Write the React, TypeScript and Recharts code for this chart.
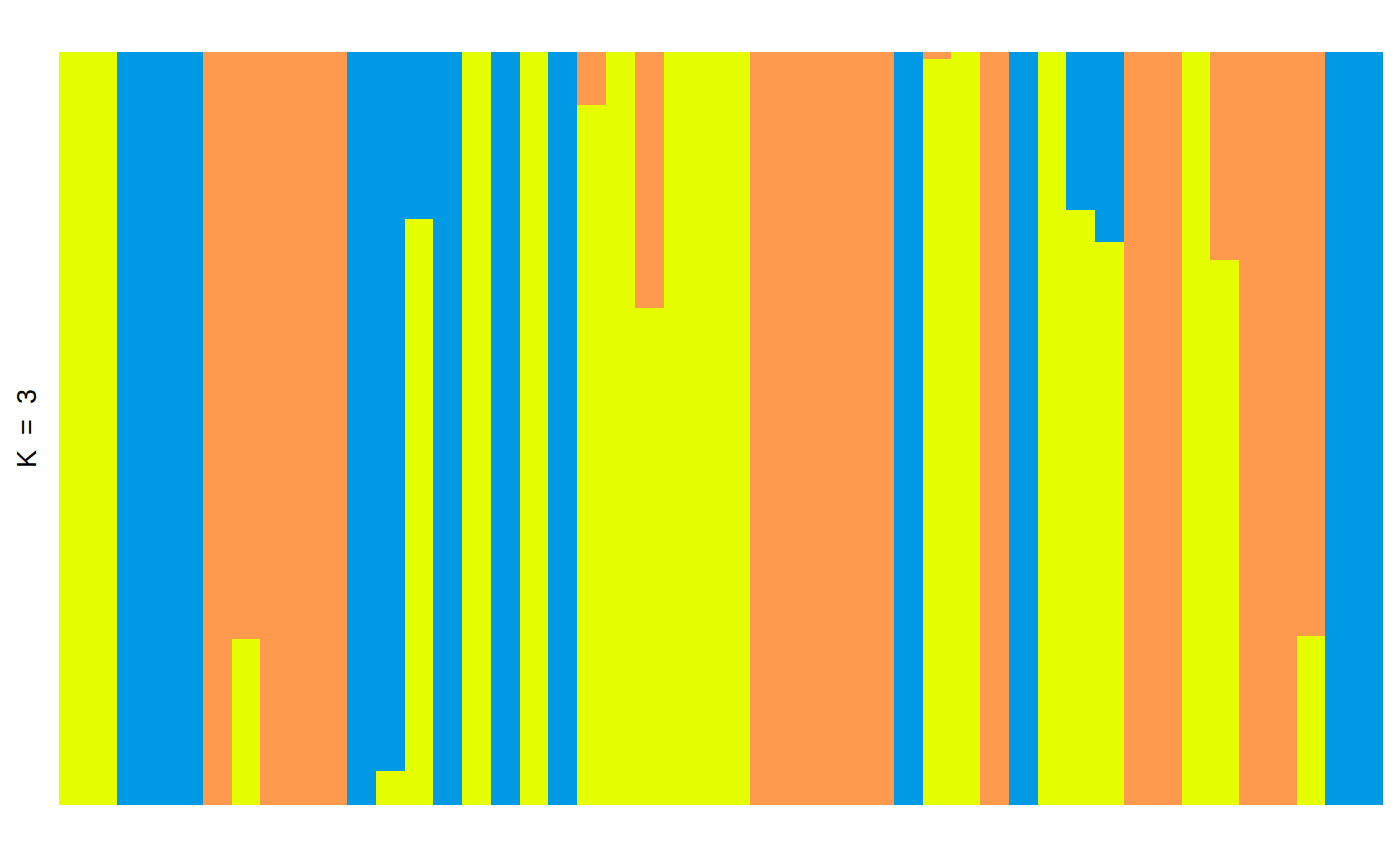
import React from 'react';
import { BarChart, Bar, XAxis, YAxis } from 'recharts';

// one entry per individual, ancestry proportions for K = 3
const individuals = Array.from({ length: 46 }, (_, i) => `ind${i + 1}`);

const yellowShare = [
  1, 1, 0, 0, 0, 0, 0.22, 0, 0, 0,
  0, 0.045, 0.778, 0, 1, 0, 1, 0, 0.93, 1,
  0.66, 1, 1, 1, 0, 0, 0, 0, 0, 0,
  0.991, 1, 0, 0, 1, 0.79, 0.748, 0, 0, 1,
  0.724, 0, 0, 0.224, 0, 0,
];
const orangeShare = [
  0, 0, 0, 0, 0, 1, 0.78, 1, 1, 1,
  0, 0, 0, 0, 0, 0, 0, 0, 0.07, 0,
  0.34, 0, 0, 0, 1, 1, 1, 1, 1, 0,
  0.009, 0, 1, 0, 0, 0, 0, 1, 1, 0,
  0.276, 1, 1, 0.776, 0, 0,
];
const blueShare = [
  0, 0, 1, 1, 1, 0, 0, 0, 0, 0,
  1, 0.955, 0.222, 1, 0, 1, 0, 1, 0, 0,
  0, 0, 0, 0, 0, 0, 0, 0, 0, 1,
  0, 0, 0, 1, 0, 0.21, 0.252, 0, 0, 0,
  0, 0, 0, 0, 1, 1,
];

const data = individuals.map((id, i) => ({
  id,
  yellow: yellowShare[i],
  orange: orangeShare[i],
  blue: blueShare[i],
}));

const KLabel = (props: any) => {
  const { viewBox } = props;
  const cx = 36;
  const cy = viewBox.y + viewBox.height / 2;
  return (
    <text
      x={cx}
      y={cy}
      transform={`rotate(-90, ${cx}, ${cy})`}
      textAnchor="middle"
      fontFamily="Liberation Sans, Arial, sans-serif"
      fontSize={27}
      fill="#000"
      style={{ whiteSpace: 'pre' }}
    >
      {'K  =  3'}
    </text>
  );
};

export default function App() {
  return (
    <div style={{ position: 'absolute', left: 0, top: 0, width: 1400, height: 865, background: '#fff' }}>
      <BarChart
        width={1400}
        height={865}
        data={data}
        margin={{ top: 52, right: 17, bottom: 60, left: 0 }}
        barCategoryGap={0}
        barGap={0}
        style={{ shapeRendering: 'crispEdges' }}
      >
        <XAxis dataKey="id" hide />
        <YAxis
          width={59}
          domain={[0, 1]}
          tick={false}
          axisLine={false}
          tickLine={false}
          label={<KLabel />}
        />
        <Bar dataKey="yellow" stackId="q" fill="#E6FF00" isAnimationActive={false} />
        <Bar dataKey="orange" stackId="q" fill="#FF994D" isAnimationActive={false} />
        <Bar dataKey="blue" stackId="q" fill="#0099E5" isAnimationActive={false} />
      </BarChart>
    </div>
  );
}
